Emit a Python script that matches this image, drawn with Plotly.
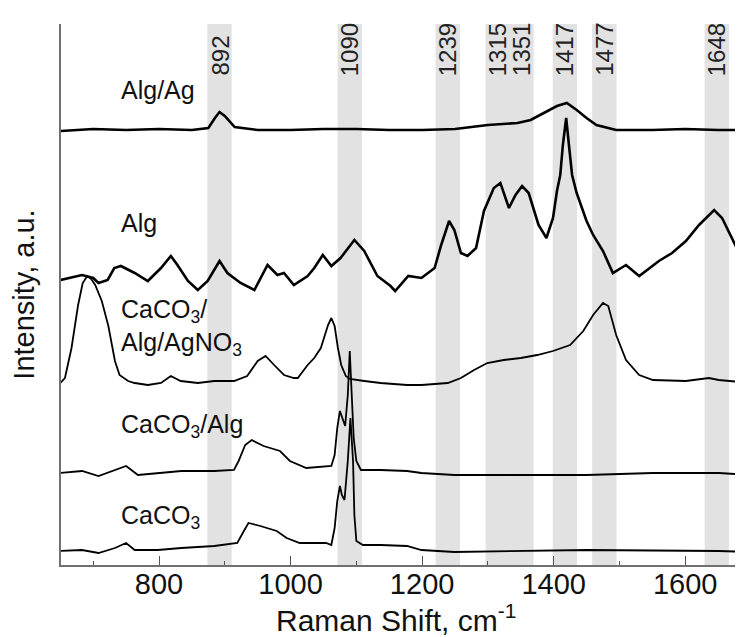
import plotly.graph_objects as go

# Band positions (cm-1) and their labels
band_centers = [892, 1090, 1239, 1315, 1351, 1417, 1477, 1648]
band_labels = ["892", "1090", "1239", "1315", "1351", "1417", "1477", "1648"]

# Spectra (stacked, offset intensity in a.u.)
alg_ag_x = [650, 700, 750, 800, 850, 875, 885, 892, 900, 915, 950, 1000, 1050, 1100, 1150,
            1200, 1250, 1280, 1300, 1345, 1365, 1385, 1405, 1420, 1435, 1450, 1465, 1495,
            1550, 1600, 1650, 1700]
alg_ag_y = [434, 436, 435, 436, 435, 437, 447, 453, 449, 438, 435, 435, 436, 436, 435,
            435, 436, 438, 440, 442, 445, 452, 459, 462, 455, 447, 440, 435,
            435, 436, 435, 435]

alg_x = [650, 683, 700, 708, 722, 732, 742, 763, 783, 803, 818, 828, 844, 859, 874, 892, 904,
         924, 945, 965, 980, 990, 1005, 1026, 1036, 1049, 1062, 1076, 1097, 1112, 1132, 1152,
         1159, 1179, 1199, 1219, 1229, 1241, 1249, 1259, 1269, 1282, 1294, 1309, 1319, 1332,
         1342, 1352, 1362, 1377, 1389, 1399, 1405, 1410, 1414, 1419, 1424, 1428, 1435, 1440,
         1450, 1460, 1475, 1490, 1510, 1530, 1540, 1560, 1580, 1601, 1621, 1644, 1656, 1671,
         1681, 1691, 1700]
alg_y = [285, 290, 287, 282, 285, 297, 299, 292, 284, 297, 309, 300, 284, 275, 284, 304, 292,
         282, 275, 300, 290, 292, 280, 289, 297, 310, 299, 307, 325, 314, 289, 279,
         274, 289, 287, 297, 320, 344, 335, 312, 309, 317, 354, 377, 382, 357,
         370, 379, 372, 340, 327, 347, 374, 390, 420, 447, 415, 390, 372, 362,
         344, 330, 314, 292, 300, 289, 294, 304, 312, 324, 340, 355, 347, 327,
         315, 300, 295]

agno3_x = [650, 657, 667, 677, 684, 691, 697, 703, 713, 723, 733, 740, 753, 763, 783, 803, 818,
           833, 859, 884, 914, 934, 950, 962, 975, 990, 1005, 1011, 1026, 1036, 1046, 1052,
           1057, 1062, 1067, 1072, 1077, 1084, 1090, 1112, 1137, 1177, 1199, 1239, 1259, 1279,
           1299, 1324, 1350, 1375, 1399, 1425, 1445, 1460, 1475, 1483, 1495, 1510, 1530, 1551,
           1601, 1636, 1651, 1700]
agno3_y = [182, 187, 217, 260, 282, 289, 286, 280, 264, 239, 204, 190, 184, 182, 180, 182, 189,
           184, 182, 184, 184, 189, 204, 209, 200, 190, 187, 187, 200, 207, 217, 229,
           240, 247, 239, 217, 200, 189, 186, 184, 182, 180, 180, 182, 187, 195,
           202, 205, 207, 210, 214, 220, 234, 250, 262, 259, 230, 205, 190, 185,
           184, 187, 185, 182]

caco3_alg_x = [650, 683, 708, 733, 750, 768, 798, 834, 884, 914, 921, 931, 941, 959, 984, 999,
               1024, 1054, 1062, 1067, 1071, 1075, 1079, 1083, 1087, 1090, 1093, 1096, 1100,
               1107, 1137, 1177, 1199, 1249, 1350, 1450, 1551, 1651, 1700]
caco3_alg_y = [92, 94, 89, 95, 99, 90, 92, 94, 94, 95, 104, 120, 125, 119, 114, 104,
               97, 99, 99, 110, 137, 154, 147, 139, 170, 214, 170, 127, 104,
               95, 95, 94, 92, 90, 90, 90, 92, 92, 90]

caco3_x = [650, 683, 708, 733, 750, 763, 798, 834, 884, 919, 929, 936, 954, 979, 994, 1014,
           1054, 1062, 1067, 1071, 1075, 1078, 1082, 1087, 1091, 1095, 1097, 1100, 1110, 1137,
           1177, 1199, 1249, 1399, 1450, 1651, 1700]
caco3_y = [14, 15, 12, 17, 22, 15, 15, 17, 19, 22, 34, 42, 39, 34, 27, 22,
           22, 20, 37, 64, 79, 70, 65, 104, 147, 104, 50, 24, 20, 20,
           19, 15, 13, 14, 15, 14, 13]

series = [
    (alg_ag_x, alg_ag_y, 2.6),
    (alg_x, alg_y, 2.6),
    (agno3_x, agno3_y, 1.8),
    (caco3_alg_x, caco3_alg_y, 1.8),
    (caco3_x, caco3_y, 1.8),
]

# Series labels: (text, x, y)
label_text = ["Alg/Ag", "Alg", "CaCO<sub>3</sub>/<br>Alg/AgNO<sub>3</sub>",
              "CaCO<sub>3</sub>/Alg", "CaCO<sub>3</sub>"]
label_x = [739, 739, 739, 739, 739]
label_y = [475, 342, 238, 139, 48]

FONT = "Liberation Sans, Arial, sans-serif"

fig = go.Figure()
for xs, ys, w in series:
    fig.add_trace(go.Scatter(x=xs, y=ys, mode="lines",
                             line=dict(color="black", width=w),
                             showlegend=False, hoverinfo="skip"))

for c in band_centers:
    fig.add_shape(type="rect", xref="x", yref="paper", x0=c - 18.5, x1=c + 18.5,
                  y0=0, y1=1, fillcolor="#e2e2e2", line=dict(width=0), layer="below")

for c, t in zip(band_centers, band_labels):
    fig.add_annotation(x=c, y=487, xref="x", yref="y", text=t, textangle=-90,
                       showarrow=False, xanchor="center", yanchor="bottom",
                       font=dict(family=FONT, size=24, color="#222"))

for t, lx, ly in zip(label_text, label_x, label_y):
    fig.add_annotation(x=lx, y=ly, xref="x", yref="y", text=t, showarrow=False,
                       xanchor="left", yanchor="middle", align="left",
                       font=dict(family=FONT, size=25, color="#111"))

# x-axis title placed as a paper annotation to match the reference spacing
fig.add_annotation(x=0.486, y=-0.098, xref="paper", yref="paper",
                   text="Raman Shift, cm<sup>-1</sup>", showarrow=False,
                   xanchor="center", yanchor="middle",
                   font=dict(family=FONT, size=30, color="#111"))

fig.update_layout(
    width=743, height=637,
    margin=dict(l=53, r=0, t=16, b=80),
    paper_bgcolor="white", plot_bgcolor="white",
    font=dict(family=FONT, color="#111"),
    xaxis=dict(range=[651, 1700], showgrid=False, zeroline=False,
               showline=True, linecolor="#707070", linewidth=1.5,
               tickmode="linear", tick0=800, dtick=200,
               ticks="inside", ticklen=9, tickcolor="#555", tickwidth=1.2,
               minor=dict(ticks="inside", ticklen=4, dtick=100, tickcolor="#555", tickwidth=1.2),
               tickfont=dict(family=FONT, size=29, color="#111"),
               ticklabelstandoff=-8,
               automargin=False),
    yaxis=dict(range=[0, 541], showgrid=False, zeroline=False,
               showline=True, linecolor="#707070", linewidth=1.5,
               showticklabels=False, ticks="",
               title=dict(text="Intensity, a.u.",
                          font=dict(family=FONT, size=29, color="#111"), standoff=19),
               automargin=False),
)

fig.write_html("out.html")
